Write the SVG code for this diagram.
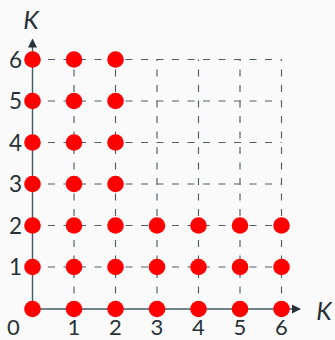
<svg xmlns="http://www.w3.org/2000/svg" width="335" height="340" viewBox="0 0 335 340">
<defs>
<style>
.grid{stroke:#4f5f67;stroke-width:1.15;stroke-dasharray:7 8.5;fill:none}
.axis{stroke:#455a64;stroke-width:1.4;fill:none}
.dot{fill:#ff0000}
.lbl{font-family:Lato,"Open Sans",sans-serif;font-size:22.5px;fill:#263238}
.xl{font-size:22px}
.var{font-family:Lato,"Open Sans",sans-serif;font-size:25px;font-style:italic;fill:#263238}
</style>
<marker id="arr" viewBox="0 0 10 10" refX="9" refY="5" markerWidth="9" markerHeight="9" markerUnits="userSpaceOnUse" orient="auto">
<path d="M0,0 L10,5 L0,10 Z" fill="#263238"/>
</marker>
</defs>
<rect width="335" height="340" fill="#fafafa"/>
<g id="connectors">
<g id="grid">
<path class="grid" d="M32.5,267 H281.5 M32.5,225.5 H281.5 M32.5,184 H281.5 M32.5,142.5 H281.5 M32.5,101 H281.5 M32.5,59.5 H281.5"/>
<path class="grid" d="M74,309 V59.5 M115.5,309 V59.5 M157,309 V59.5 M198.5,309 V59.5 M240,309 V59.5 M281.5,309 V59.5"/>
</g>
<path id="x-axis" class="axis" d="M32.5,309 H300" marker-end="url(#arr)"/>
<path id="y-axis" class="axis" d="M32.5,309 V39.5" marker-end="url(#arr)"/>
</g>
<g id="labels">
<text class="var" x="31" y="28.5" text-anchor="middle">K</text>
<text class="var" x="324" y="319.5" text-anchor="middle">K</text>
<g class="lbl xl" text-anchor="middle">
<text x="13.5" y="335.3">0</text>
<text x="74" y="335.3">1</text>
<text x="115.5" y="335.3">2</text>
<text x="157" y="335.3">3</text>
<text x="198.5" y="335.3">4</text>
<text x="240" y="335.3">5</text>
<text x="281.5" y="335.3">6</text>
</g>
<g class="lbl" text-anchor="end">
<text x="22" y="275.3">1</text>
<text x="22" y="233.8">2</text>
<text x="22" y="192.3">3</text>
<text x="22" y="150.8">4</text>
<text x="22" y="109.3">5</text>
<text x="22" y="67.8">6</text>
</g>
</g>
<g id="dots">
<g id="row0"><circle class="dot" cx="32.5" cy="309" r="8.3"/><circle class="dot" cx="74" cy="309" r="8.3"/><circle class="dot" cx="115.5" cy="309" r="8.3"/><circle class="dot" cx="157" cy="309" r="8.3"/><circle class="dot" cx="198.5" cy="309" r="8.3"/><circle class="dot" cx="240" cy="309" r="8.3"/><circle class="dot" cx="281.5" cy="309" r="8.3"/></g>
<g id="row1"><circle class="dot" cx="32.5" cy="267" r="8.3"/><circle class="dot" cx="74" cy="267" r="8.3"/><circle class="dot" cx="115.5" cy="267" r="8.3"/><circle class="dot" cx="157" cy="267" r="8.3"/><circle class="dot" cx="198.5" cy="267" r="8.3"/><circle class="dot" cx="240" cy="267" r="8.3"/><circle class="dot" cx="281.5" cy="267" r="8.3"/></g>
<g id="row2"><circle class="dot" cx="32.5" cy="225.5" r="8.3"/><circle class="dot" cx="74" cy="225.5" r="8.3"/><circle class="dot" cx="115.5" cy="225.5" r="8.3"/><circle class="dot" cx="157" cy="225.5" r="8.3"/><circle class="dot" cx="198.5" cy="225.5" r="8.3"/><circle class="dot" cx="240" cy="225.5" r="8.3"/><circle class="dot" cx="281.5" cy="225.5" r="8.3"/></g>
<g id="row3"><circle class="dot" cx="32.5" cy="184" r="8.3"/><circle class="dot" cx="74" cy="184" r="8.3"/><circle class="dot" cx="115.5" cy="184" r="8.3"/></g>
<g id="row4"><circle class="dot" cx="32.5" cy="142.5" r="8.3"/><circle class="dot" cx="74" cy="142.5" r="8.3"/><circle class="dot" cx="115.5" cy="142.5" r="8.3"/></g>
<g id="row5"><circle class="dot" cx="32.5" cy="101" r="8.3"/><circle class="dot" cx="74" cy="101" r="8.3"/><circle class="dot" cx="115.5" cy="101" r="8.3"/></g>
<g id="row6"><circle class="dot" cx="32.5" cy="59.5" r="8.3"/><circle class="dot" cx="74" cy="59.5" r="8.3"/><circle class="dot" cx="115.5" cy="59.5" r="8.3"/></g>
</g>
</svg>
